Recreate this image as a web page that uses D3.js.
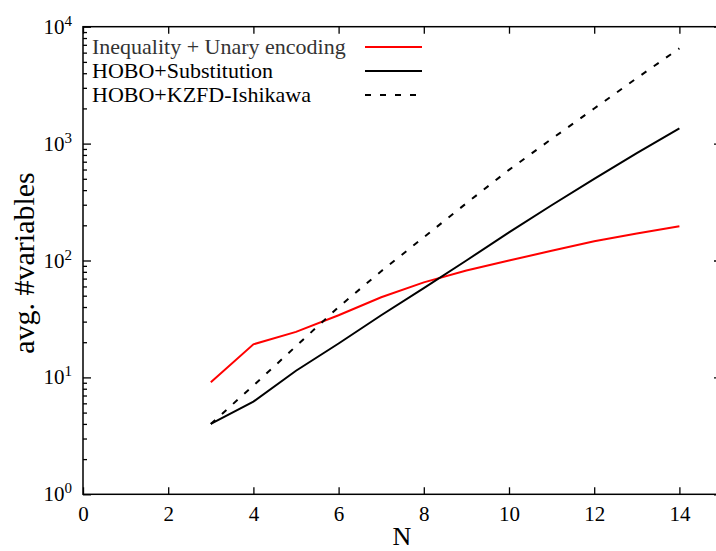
<!DOCTYPE html>
<html>
<head>
<meta charset="utf-8">
<script src="https://cdn.jsdelivr.net/npm/d3@7"></script>
<style>
  body { margin: 0; background: #fff; }
  text { font-family: "Liberation Serif", "Times New Roman", serif; }
</style>
</head>
<body>
<svg id="chart"></svg>
<script>
// data
const nValues = [3, 4, 5, 6, 7, 8, 9, 10, 11, 12, 13, 14];
const unaryVars = [9.1, 19.2, 24.5, 34, 48.5, 65, 82, 100, 121, 146, 170, 196];
const substitutionVars = [4, 6.2, 11.4, 19.5, 34, 58, 100, 174, 297, 500, 830, 1350];
const kzfdVars = [4, 8.5, 18.5, 40, 81, 158, 309, 596, 1096, 1995, 3630, 6530];
const seriesNames = ["Inequality + Unary encoding", "HOBO+Substitution", "HOBO+KZFD-Ishikawa"];
const xTicks = [0, 2, 4, 6, 8, 10, 12, 14];
const yExponents = [0, 1, 2, 3, 4];

const W = 716, H = 551;
const margin = { top: 26.7, left: 83, bottom: 494.3 };
const plotRight = 722; // right frame falls just outside the window

const svg = d3.select('#chart').attr('width', W).attr('height', H);

const x = d3.scaleLinear().domain([0, 15]).range([margin.left, plotRight]);
const y = d3.scaleLog().domain([1, 1e4]).range([margin.bottom, margin.top]);

// minor ticks 2..9 of each decade
const minorTicks = [];
yExponents.slice(0, -1).forEach(e => {
    for (let k = 2; k <= 9; k++) minorTicks.push(k * Math.pow(10, e));
});
const majorTicks = yExponents.map(e => Math.pow(10, e));

const axisStyle = g => {
    g.attr('font-family', null);
    g.select('.domain').remove();
    g.selectAll('line').attr('stroke', '#000').attr('stroke-width', 1.3);
};

// bottom axis, ticks pointing inward
svg.append('g')
    .attr('transform', 'translate(0,' + margin.bottom + ')')
    .call(d3.axisBottom(x).tickValues(xTicks).tickSizeInner(-7).tickSizeOuter(0).tickPadding(12))
    .call(axisStyle)
    .call(g => g.selectAll('text')
        .attr('font-size', 21)
        .attr('fill', '#000'));

// top axis mirror
svg.append('g')
    .attr('transform', 'translate(0,' + margin.top + ')')
    .call(d3.axisTop(x).tickValues(xTicks).tickSizeInner(-7).tickSizeOuter(0).tickFormat(''))
    .call(axisStyle);

// left axis majors + minors
svg.append('g')
    .attr('transform', 'translate(' + margin.left + ',0)')
    .call(d3.axisLeft(y).tickValues(majorTicks).tickSizeInner(-8).tickSizeOuter(0).tickFormat(''))
    .call(axisStyle);
svg.append('g')
    .attr('transform', 'translate(' + margin.left + ',0)')
    .call(d3.axisLeft(y).tickValues(minorTicks).tickSizeInner(-4).tickSizeOuter(0).tickFormat(''))
    .call(axisStyle);

// right axis mirror
svg.append('g')
    .attr('transform', 'translate(' + plotRight + ',0)')
    .call(d3.axisRight(y).tickValues(majorTicks).tickSizeInner(-8).tickSizeOuter(0).tickFormat(''))
    .call(axisStyle);
svg.append('g')
    .attr('transform', 'translate(' + plotRight + ',0)')
    .call(d3.axisRight(y).tickValues(minorTicks).tickSizeInner(-4).tickSizeOuter(0).tickFormat(''))
    .call(axisStyle);

// y tick labels as 10^e
const yLabels = svg.append('g');
yExponents.forEach(e => {
    const t = yLabels.append('text')
        .attr('x', 72)
        .attr('y', y(Math.pow(10, e)) + 7)
        .attr('text-anchor', 'end')
        .attr('font-size', 21)
        .attr('fill', '#000');
    t.append('tspan').text('10');
    t.append('tspan').attr('dy', -8).attr('font-size', 15).text(e);
});

// frame
svg.append('rect')
    .attr('x', margin.left).attr('y', margin.top)
    .attr('width', plotRight - margin.left)
    .attr('height', margin.bottom - margin.top)
    .attr('fill', 'none').attr('stroke', '#000').attr('stroke-width', 1.5);

// lines
const series = [
    { name: seriesNames[0], values: unaryVars, color: '#ff0000', dash: null },
    { name: seriesNames[1], values: substitutionVars, color: '#000', dash: null },
    { name: seriesNames[2], values: kzfdVars, color: '#000', dash: '6,9' }
];
const line = d3.line()
    .x((d, i) => x(nValues[i]))
    .y(d => y(d));

series.forEach(s => {
    svg.append('path')
        .datum(s.values)
        .attr('d', line)
        .attr('fill', 'none')
        .attr('stroke', s.color)
        .attr('stroke-width', 2)
        .attr('stroke-dasharray', s.dash);
});

// legend
const legend = svg.append('g');
series.forEach((s, i) => {
    const cy = 47 + i * 24;
    legend.append('text')
        .attr('x', 92).attr('y', cy + 7)
        .attr('font-size', 22)
        .attr('fill', i === 0 ? '#333' : '#000')
        .text(s.name);
    legend.append('line')
        .attr('x1', 365).attr('x2', 422)
        .attr('y1', cy).attr('y2', cy)
        .attr('stroke', s.color)
        .attr('stroke-width', 2)
        .attr('stroke-dasharray', s.dash);
});

// axis titles
svg.append('text')
    .attr('transform', 'translate(34,263) rotate(-90)')
    .attr('text-anchor', 'middle')
    .attr('font-size', 30)
    .attr('fill', '#000')
    .text('avg. #variables');
svg.append('text')
    .attr('x', 402).attr('y', 545)
    .attr('text-anchor', 'middle')
    .attr('font-size', 26)
    .attr('fill', '#000')
    .text('N');
</script>
</body>
</html>
